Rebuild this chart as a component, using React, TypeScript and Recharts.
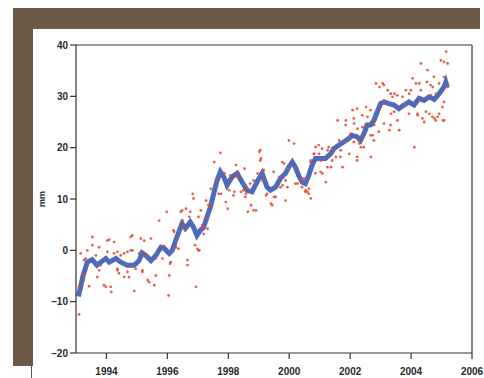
import React from 'react';
import { ComposedChart, Line, Scatter, XAxis, YAxis, ReferenceLine } from 'recharts';

const xTicks = [1994, 1996, 1998, 2000, 2002, 2004, 2006];
const yTicks = [-20, -10, 0, 10, 20, 30, 40];

const smoothYears = [
  1993.08, 1993.23, 1993.37, 1993.53, 1993.69, 1993.81, 1993.98, 1994.09, 1994.31, 1994.47,
  1994.68, 1994.91, 1995.07, 1995.17, 1995.29, 1995.46, 1995.62, 1995.79, 1995.89, 1996.06,
  1996.16, 1996.31, 1996.48, 1996.59, 1996.75, 1996.86, 1996.97, 1997.08, 1997.19, 1997.30,
  1997.41, 1997.52, 1997.63, 1997.74, 1997.85, 1997.96, 1998.12, 1998.29, 1998.45, 1998.62,
  1998.78, 1998.94, 1999.11, 1999.27, 1999.38, 1999.55, 1999.71, 1999.88, 1999.98, 2000.10,
  2000.20, 2000.31, 2000.42, 2000.53, 2000.64, 2000.75, 2000.86, 2001.03, 2001.19, 2001.36,
  2001.46, 2001.63, 2001.79, 2001.96, 2002.07, 2002.23, 2002.34, 2002.45, 2002.56, 2002.67,
  2002.78, 2002.89, 2003.00, 2003.11, 2003.27, 2003.44, 2003.60, 2003.77, 2003.93, 2004.10,
  2004.26, 2004.43, 2004.59, 2004.76, 2004.92, 2005.08, 2005.14, 2005.19,
];
const smoothValues = [
  -9.0, -5.0, -2.3, -1.8, -2.9, -2.3, -1.6, -2.3, -1.6, -2.3,
  -2.9, -2.9, -2.0, -0.5, -1.0, -2.0, -1.0, 0.6, 0.4, -0.6,
  0.0, 2.6, 5.2, 4.3, 5.5, 4.5, 2.9, 3.9, 4.5, 6.5,
  8.4, 11.0, 13.6, 15.3, 14.3, 12.7, 14.3, 15.0, 13.3, 11.7,
  11.4, 13.3, 15.0, 12.3, 11.7, 12.3, 14.0, 15.0, 16.2, 17.2,
  16.2, 14.6, 13.3, 13.0, 14.6, 16.6, 17.9, 17.9, 17.9, 18.8,
  19.8, 20.5, 21.1, 21.8, 22.4, 22.1, 21.4, 22.7, 24.4, 24.4,
  25.3, 27.0, 28.6, 28.9, 28.6, 28.3, 27.6, 28.3, 28.9, 28.3,
  29.6, 29.2, 29.9, 29.4, 30.5, 31.8, 32.8, 31.8,
];

const rawYears = [
  1993.10, 1993.10, 1993.26, 1993.32, 1993.37, 1993.43, 1993.54, 1993.54, 1993.65, 1993.70,
  1993.76, 1993.81, 1993.92, 1993.98, 1994.03, 1994.09, 1994.14, 1994.16, 1994.25, 1994.25,
  1994.36, 1994.41, 1994.47, 1994.58, 1994.69, 1994.74, 1994.80, 1994.85, 1994.91, 1994.96,
  1995.07, 1995.13, 1995.18, 1995.24, 1995.29, 1995.35, 1995.46, 1995.57, 1995.62, 1995.73,
  1995.84, 1995.89, 1995.98, 1996.04, 1996.06, 1996.11, 1996.22, 1996.28, 1996.44, 1996.50,
  1996.55, 1996.61, 1996.66, 1996.66, 1996.72, 1996.83, 1996.86, 1996.94, 1996.99, 1997.05,
  1997.10, 1997.15, 1997.27, 1997.32, 1997.38, 1997.43, 1997.54, 1997.60, 1997.74, 1997.76,
  1997.87, 1997.92, 1997.98, 1998.03, 1998.09, 1998.20, 1998.25, 1998.31, 1998.42, 1998.53,
  1998.58, 1998.64, 1998.75, 1998.91, 1998.96, 1999.02, 1999.07, 1999.13, 1999.24, 1999.40,
  1999.50, 1999.67, 1999.78, 1999.83, 1999.88, 1999.94, 1999.99, 2000.16, 2000.27, 2000.38,
  2000.49, 2000.54, 2000.60, 2000.65, 2000.71, 2000.71, 2000.82, 2000.87, 2000.98, 2001.04,
  2001.09, 2001.20, 2001.26, 2001.37, 2001.42, 2001.53, 2001.59, 2001.64, 2001.69, 2001.75,
  2001.86, 2001.91, 2001.97, 2002.08, 2002.13, 2002.24, 2002.30, 2002.35, 2002.41, 2002.52,
  2002.57, 2002.68, 2002.74, 2002.79, 2002.85, 2002.96, 2003.01, 2003.07, 2003.12, 2003.23,
  2003.29, 2003.34, 2003.39, 2003.45, 2003.55, 2003.61, 2003.72, 2003.78, 2003.83, 2003.94,
  2004.05, 2004.11, 2004.16, 2004.22, 2004.27, 2004.32, 2004.43, 2004.49, 2004.52, 2004.54,
  2004.60, 2004.65, 2004.71, 2004.77, 2004.82, 2004.87, 2004.92, 2004.98, 2005.03, 2005.05,
  2005.08, 2005.15, 2005.20, 2005.20, 2005.08,
  1994.85, 1994.03, 1993.15, 1994.36, 1994.58, 1994.80, 1993.26, 1993.76, 1994.36, 1994.69,
  1995.18, 1995.62, 1993.26, 1995.40,
  1998.34, 1998.07, 1999.05, 1998.83, 1998.72, 1998.61, 1998.50, 1997.68, 1998.17, 1998.56,
  1998.83, 1996.48, 1996.75, 1997.02, 1997.35, 1997.24, 1996.20, 1997.19, 1997.19, 1996.36,
  1996.91, 1997.02, 1996.09,
  2000.81, 2000.97, 2001.08, 2001.30, 2001.85, 2002.23, 2002.01, 2001.68, 2001.41, 2001.25,
  2001.03, 2000.86, 2000.70, 1999.77, 1999.05, 1999.16, 1999.49, 1999.88, 2000.20, 2000.42,
  2000.53, 2000.64, 1999.71, 1999.27, 1999.55, 1999.44, 2002.23,
  2004.32, 2004.75, 2003.11, 2003.99, 2003.33, 2003.55, 2004.64, 2004.92, 2004.32, 2005.08,
  2002.67, 2002.40, 2002.12, 2002.51, 2003.44, 2003.93, 2004.21, 2004.37, 2004.70, 2004.81,
  2005.08, 2003.11, 2003.33, 2002.94, 2002.67, 2002.34, 2002.78, 2002.12, 2002.45, 2002.23,
];
const rawValues = [
  -12.5, -7.1, -4.5, -1.6, 0.0, -7.0, 2.6, 1.0, -1.0, -5.2,
  0.6, -2.9, -6.8, -7.1, -0.3, 2.1, -7.1, -8.1, 1.6, -0.6,
  -3.6, -4.5, -1.0, -5.2, -0.3, -5.2, 2.6, 0.0, -7.9, -3.6,
  -0.6, 2.3, -4.2, 1.9, -1.0, -5.8, 2.3, -6.8, -1.6, 5.8,
  -1.6, 0.8, 7.5, -8.8, -4.9, -2.3, 3.6, 0.6, 7.5, 5.8,
  4.5, 8.1, -1.9, -2.9, 6.5, 11.0, 10.1, -7.1, 0.3, 0.0,
  7.8, 4.9, 9.7, 4.2, 8.4, 12.0, 17.2, 13.6, 19.0, 11.0,
  15.0, 9.4, 8.1, 11.7, 13.6, 11.4, 16.6, 14.3, 11.4, 15.9,
  11.0, 7.5, 8.8, 7.8, 15.0, 19.2, 17.9, 13.6, 10.7, 9.1,
  10.4, 14.3, 12.7, 16.9, 9.7, 12.3, 21.4, 20.8, 13.0, 13.6,
  14.0, 11.7, 11.4, 12.0, 10.1, 17.5, 18.8, 20.1, 18.8, 17.5,
  15.0, 13.3, 19.5, 16.2, 19.8, 18.2, 25.3, 21.4, 19.5, 16.2,
  25.3, 21.4, 18.8, 27.3, 24.7, 23.7, 20.8, 20.1, 24.0, 27.9,
  26.0, 18.2, 22.4, 24.4, 32.5, 31.8, 27.9, 32.5, 29.2, 31.2,
  23.4, 26.6, 29.9, 30.5, 25.3, 23.4, 29.9, 28.6, 31.2, 30.5,
  33.5, 20.1, 32.5, 26.3, 32.5, 29.2, 25.0, 27.0, 32.8, 35.1,
  26.6, 30.2, 31.8, 25.7, 30.5, 26.0, 26.6, 37.0, 27.9, 25.3,
  36.7, 38.7, 36.4, 31.8, 33.8,
  2.9, 1.9, -0.6, -0.3, -0.6, 0.0, -1.9, -3.9, -3.9, -4.2,
  -3.9, -4.9, -5.8, -6.2,
  15.0, 14.6, 19.5, 13.6, 13.0, 12.0, 11.7, 11.0, 10.7, 10.4,
  7.8, 7.8, 7.5, 6.5, 8.8, 6.2, 3.9, 4.5, 3.2, 0.3,
  1.0, 0.0, -2.6,
  18.8, 20.5, 19.8, 20.1, 24.4, 27.6, 22.7, 18.2, 17.5, 16.2,
  15.3, 15.0, 17.2, 17.2, 17.5, 15.6, 15.3, 13.6, 13.0, 12.3,
  11.4, 11.0, 12.3, 11.0, 10.4, 8.8, 17.5,
  36.4, 33.8, 32.2, 31.2, 30.5, 30.2, 32.2, 32.5, 31.2, 28.9,
  27.3, 26.3, 25.7, 24.4, 27.0, 26.6, 26.6, 25.7, 26.0, 25.3,
  25.3, 24.7, 24.4, 23.1, 22.4, 21.8, 21.4, 21.1, 20.1, 18.2,
];

const smoothData = smoothYears.map((t, i) => ({ t, v: smoothValues[i] }));
const rawData = rawYears.map((t, i) => ({ t, v: rawValues[i] }));

const fmt = (n: number) => (n < 0 ? '\u2013' + Math.abs(n) : String(n));

const tickStyle = { fontFamily: 'Liberation Sans, Arial, sans-serif', fontSize: 10, fontWeight: 700, fill: '#2a2a2a' };

const Dot = (props: any) => {
  const { cx, cy } = props;
  if (cx == null || cy == null) return null;
  return <circle cx={cx} cy={cy} r={1.4} fill="#e2472f" fillOpacity={0.85} />;
};

export default function App() {
  return (
    <div style={{ position: 'absolute', left: 0, top: 0, width: 484, height: 378, background: '#ffffff', overflow: 'hidden' }}>
      <div style={{ position: 'absolute', left: 13, top: 8, width: 467, height: 21, background: '#6c5a47' }} />
      <div style={{ position: 'absolute', left: 13, top: 8, width: 20, height: 358, background: '#6c5a47' }} />
      <div style={{ position: 'absolute', left: 31, top: 366, width: 1, height: 12, background: '#555' }} />
      <div style={{ position: 'absolute', left: 0, top: 0 }}>
        <ComposedChart width={484} height={378} margin={{ top: 45, right: 12, bottom: 0, left: 0 }}>
          <XAxis
            dataKey="t"
            type="number"
            domain={[1993, 2006]}
            ticks={xTicks}
            allowDataOverflow
            height={25}
            tick={tickStyle}
            tickSize={6}
            tickMargin={9}
            stroke="#333"
            strokeWidth={1.2}
            interval={0}
          />
          <YAxis
            dataKey="v"
            type="number"
            domain={[-20, 40]}
            ticks={yTicks}
            width={76}
            tick={tickStyle}
            tickFormatter={fmt}
            tickSize={6}
            tickMargin={2}
            stroke="#333"
            strokeWidth={1.2}
            interval={0}
            label={{ value: 'mm', angle: -90, position: 'insideLeft', offset: 42, style: { fontFamily: 'Liberation Sans, Arial, sans-serif', fontSize: 9, fontWeight: 700, fill: '#2a2a2a', textAnchor: 'middle' } }}
          />
          <ReferenceLine y={40} stroke="#333" strokeWidth={1.2} ifOverflow="visible" />
          <ReferenceLine x={2006} stroke="#333" strokeWidth={1.2} ifOverflow="visible" />
          <Scatter data={rawData} dataKey="v" shape={<Dot />} isAnimationActive={false} />
          <Line
            data={smoothData}
            dataKey="v"
            type="linear"
            stroke="#3b5ab3"
            strokeWidth={5}
            strokeOpacity={0.9}
            dot={false}
            isAnimationActive={false}
          />
        </ComposedChart>
      </div>
    </div>
  );
}
